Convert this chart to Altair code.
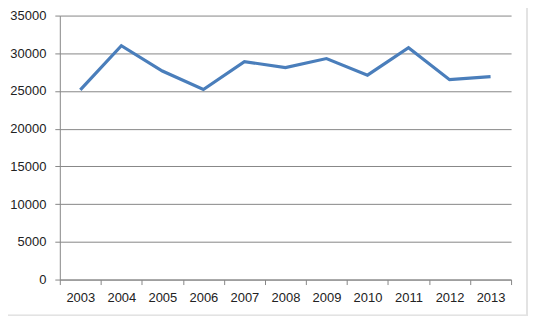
import altair as alt
import pandas as pd

years = ["2003", "2004", "2005", "2006", "2007", "2008", "2009", "2010", "2011", "2012", "2013"]
values = [25150, 31000, 27650, 25200, 28900, 28100, 29300, 27100, 30750, 26500, 26900]
y_ticks = [0, 5000, 10000, 15000, 20000, 25000, 30000, 35000]

df = pd.DataFrame({"year": years, "value": values})

FONT = "Liberation Sans"
GRID = "#878787"

line = alt.Chart(df).mark_line(color="#4a7ebb", strokeWidth=3.2, strokeJoin="miter").encode(
    x=alt.X("year:O", bandPosition=0.5,
            scale=alt.Scale(type="band", paddingInner=0, paddingOuter=0),
            axis=alt.Axis(title=None, labelAngle=0, tickBand="extent", tickSize=5,
                          tickColor=GRID, domainColor=GRID, labelPadding=7,
                          labelFont=FONT, labelFontSize=13, labelColor="#222222",
                          grid=False)),
    y=alt.Y("value:Q", scale=alt.Scale(domain=[0, 35000], nice=False),
            axis=alt.Axis(title=None, values=y_ticks, format="d", tickSize=5,
                          tickColor=GRID, domainColor=GRID, gridColor=GRID,
                          gridOpacity=1, labelPadding=9, labelFont=FONT,
                          labelFontSize=13, labelColor="#222222")),
)

frame_r = alt.Chart(df).mark_rule(color="#e3e3e3", strokeWidth=1).encode(
    x=alt.value(469), y=alt.value(-20), y2=alt.value(301))
frame_b = alt.Chart(df).mark_rule(color="#e3e3e3", strokeWidth=1).encode(
    x=alt.value(-60), x2=alt.value(469), y=alt.value(301))

chart = alt.layer(line, frame_r, frame_b).properties(
    width=453, height=265,
    autosize=alt.AutoSizeParams(type="none"),
    padding={"left": 52, "top": 7, "right": 20, "bottom": 40},
).configure_view(stroke=None)

chart.save("out.html", embed_options={"renderer": "svg", "actions": False})
